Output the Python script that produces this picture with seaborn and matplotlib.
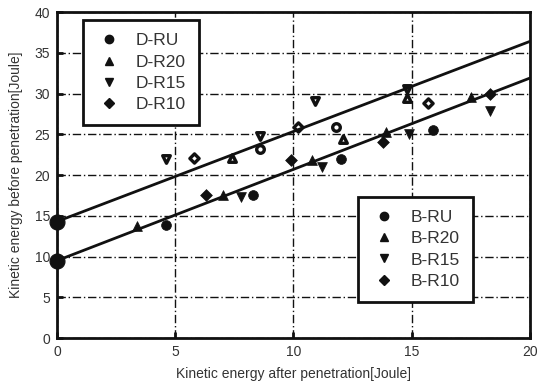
import numpy as np
import pandas as pd
import matplotlib
matplotlib.use("Agg")
import matplotlib.pyplot as plt
import seaborn as sns

# data (x = after, y = before penetration)
d_ru_x = [8.6, 11.8]
d_ru_y = [23.2, 25.9]
d_r20_x = [7.4, 12.1, 14.8]
d_r20_y = [22.1, 24.4, 29.4]
d_r15_x = [4.6, 8.6, 10.9, 14.8]
d_r15_y = [22.0, 24.8, 29.1, 30.5]
d_r10_x = [5.8, 10.2, 15.7]
d_r10_y = [22.1, 25.9, 28.8]

b_ru_x = [4.6, 8.3, 12.0, 15.9]
b_ru_y = [13.9, 17.6, 22.0, 25.5]
b_r20_x = [3.4, 7.0, 10.8, 13.9, 17.5]
b_r20_y = [13.8, 17.6, 21.8, 25.3, 29.6]
b_r15_x = [7.8, 11.2, 14.9, 18.3]
b_r15_y = [17.3, 21.0, 25.0, 27.9]
b_r10_x = [6.3, 9.9, 13.8, 18.3]
b_r10_y = [17.6, 21.9, 24.0, 29.9]

# intercept points at zero residual energy
zero_x = [0.0, 0.0]
zero_y = [14.2, 9.5]

# linear fits (intercept, slope)
d_fit = (14.3, 1.105)
b_fit = (9.5, 1.12)
fit_x = np.array([0.0, 20.0])

sns.set_style("white")
plt.rcParams['font.family'] = ['Liberation Sans', 'DejaVu Sans']

fig = plt.figure(figsize=(5.38, 3.89), dpi=100)
ax = fig.add_axes([0.106, 0.131, 0.879, 0.838])

ink = "#111111"

# fitted lines
for b0, b1 in (d_fit, b_fit):
    sns.lineplot(x=fit_x, y=b0 + b1 * fit_x, color=ink, lw=2.0, ax=ax, legend=False)

d_series = [("D-RU", d_ru_x, d_ru_y, "o"), ("D-R20", d_r20_x, d_r20_y, "^"),
            ("D-R15", d_r15_x, d_r15_y, "v"), ("D-R10", d_r10_x, d_r10_y, "D")]
b_series = [("B-RU", b_ru_x, b_ru_y, "o"), ("B-R20", b_r20_x, b_r20_y, "^"),
            ("B-R15", b_r15_x, b_r15_y, "v"), ("B-R10", b_r10_x, b_r10_y, "D")]

d_handles = []
for name, xs, ys, m in d_series:
    s = 30 if m != "D" else 22
    sns.scatterplot(x=xs, y=ys, marker=m, s=s, facecolor="white", edgecolor=ink,
                    linewidth=2.4, ax=ax, legend=False)
    d_handles.append(plt.Line2D([], [], ls="", marker=m, color=ink,
                                markersize=6 if m != "D" else 5, label=name))

b_handles = []
for name, xs, ys, m in b_series:
    s = 50 if m != "D" else 36
    sns.scatterplot(x=xs, y=ys, marker=m, s=s, color=ink, edgecolor=ink,
                    linewidth=0.5, ax=ax, legend=False)
    b_handles.append(plt.Line2D([], [], ls="", marker=m, color=ink,
                                markersize=6 if m != "D" else 5, label=name))

sns.scatterplot(x=zero_x, y=zero_y, marker="o", s=115, color=ink, edgecolor=ink,
                ax=ax, legend=False, zorder=5, clip_on=False)

ax.set_xlim(0, 20)
ax.set_ylim(0, 40)
ax.set_xticks(range(0, 21, 5))
ax.set_yticks(range(0, 41, 5))
ax.grid(True, color=ink, lw=1.0, ls=(0, (6, 2, 1, 2)))
ax.set_axisbelow(True)
for sp in ax.spines.values():
    sp.set_color(ink)
    sp.set_linewidth(2.0)
ax.tick_params(direction="in", length=4, width=2, colors=ink, labelsize=10,
               labelcolor="#333333", pad=5, bottom=True, left=True)

ax.set_xlabel("Kinetic energy after penetration[Joule]", fontsize=10, color="#333333",
              labelpad=6)
ax.set_ylabel("Kinetic energy before penetration[Joule]", fontsize=10, color="#333333",
              labelpad=8)

leg_kw = dict(loc="upper left", fontsize=12.5, frameon=True, fancybox=False,
              borderaxespad=0, handletextpad=0.8, labelspacing=0.35,
              borderpad=0.75, handlelength=1.5)
leg1 = ax.legend(handles=d_handles, bbox_to_anchor=(0.055, 0.975), **leg_kw)
leg2 = ax.legend(handles=b_handles, bbox_to_anchor=(0.636, 0.433), **leg_kw)
ax.add_artist(leg1)
for lg in (leg1, leg2):
    lg.get_frame().set_edgecolor(ink)
    lg.get_frame().set_linewidth(2.0)
    lg.get_frame().set_alpha(1)
    for t in lg.get_texts():
        t.set_color("#333333")

fig.savefig("out.png", dpi=100)
